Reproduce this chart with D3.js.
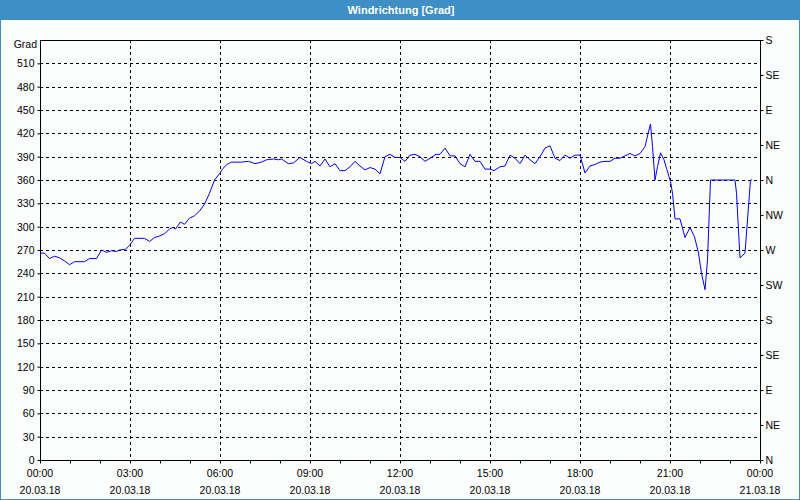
<!DOCTYPE html>
<html><head><meta charset="utf-8">
<script src="https://cdn.jsdelivr.net/npm/d3@7"></script>
<style>
html,body{margin:0;padding:0;background:#fff;}
text{font-family:"Liberation Sans",Arial,sans-serif;}
</style></head>
<body>
<svg id="chart" width="800" height="500"></svg>
<script>
const title = "Windrichtung [Grad]";
const yUnit = "Grad";
// minutes since 20.03.18 00:00
const minutes = [0,9,19,29,39,49,59,69,89,99,113,123,133,143,153,159,171,179,189,209,219,229,239,249,259,266,271,281,289,299,309,319,329,339,349,359,366,374,
377,383,403,417,430,443,453,467,477,483,497,507,520,533,543,550,560,570,580,590,600,610,620,630,640,650,660,670,680,690,700,710,720,730,740,750,760,770,780,792,800,810,820,830,840,850,860,870,880,890,900,908,920,930,940,950,960,970,980,990,1000,1010,1020,1030,1040,1050,1060,1070,1080,1090,1100,1110,1120,1130,1140,1150,1160,1170,1180,1190,1200,1210,1217,1221,1225,1230,1235,1241,1248,1253,1261,1265,1270,1280,1290,1300,1309,1317,1323,1330,1335,1341,1390,1393,1400,1410,1419,1421,1424];
const direction = [266,266,259,262,260,256,251,255,255,259,259,270,267,269,268,270,271,276,285,285,281,286,288,291,297,299,297,306,303,311,314,320,329,343,360,368,375,380,
381,383,383,384,381,383,386,387,386,387,381,382,389,384,381,384,378,387,377,381,372,372,377,384,378,373,376,374,368,390,393,389,389,384,392,393,390,384,388,393,393,401,391,391,381,377,393,384,384,374,374,372,377,378,392,388,381,392,386,381,390,401,404,388,385,392,388,392,392,369,378,380,383,384,384,388,388,391,394,391,394,403,422,432,403,360,377,395,386,375,358,343,310,310,286,299,287,266,240,219,257,360,360,343,260,266,343,360,360];
const leftTicks = [0,30,60,90,120,150,180,210,240,270,300,330,360,390,420,450,480,510];
const rightTickValues = [0,45,90,135,180,225,270,315,360,405,450,495,540];
const rightTickLabels = ["N","NE","E","SE","S","SW","W","NW","N","NE","E","SE","S"];
const xTickTimes = ["00:00","03:00","06:00","09:00","12:00","15:00","18:00","21:00","00:00"];
const xTickDates = ["20.03.18","20.03.18","20.03.18","20.03.18","20.03.18","20.03.18","20.03.18","20.03.18","21.03.18"];

const svg = d3.select("#chart");
const W = 800, H = 500;
const m = {l:40, r:40, t:40, b:40};
const t0 = new Date(2018,2,20,0,0);
const t1 = new Date(2018,2,21,0,0);
const x = d3.scaleTime().domain([t0,t1]).range([m.l, W-m.r]);
const y = d3.scaleLinear().domain([0,540]).range([H-m.b, m.t]);

// frame
svg.append("rect").attr("x",0.5).attr("y",0.5).attr("width",W-1).attr("height",H-1)
  .attr("fill","#fcfefe").attr("stroke","#3d8fc6").attr("stroke-width",1);
svg.append("rect").attr("x",0).attr("y",0).attr("width",W).attr("height",20).attr("fill","#3d8fc6");
svg.append("text").attr("x",401).attr("y",14).attr("text-anchor","middle")
  .attr("fill","#fff").attr("font-weight","bold").attr("font-size","11px").text(title);

// grid
const g = svg.append("g");
g.selectAll(".hg").data(leftTicks.filter(v=>v>0)).join("line")
  .attr("x1",m.l).attr("x2",W-m.r).attr("y1",d=>Math.round(y(d))+0.5).attr("y2",d=>Math.round(y(d))+0.5)
  .attr("stroke","#000").attr("stroke-dasharray","3,3");
const gridHours = d3.range(3,24,3).map(h=>new Date(2018,2,20,h,0));
g.selectAll(".vg").data(gridHours).join("line")
  .attr("y1",m.t).attr("y2",H-m.b).attr("x1",d=>Math.round(x(d))+0.5).attr("x2",d=>Math.round(x(d))+0.5)
  .attr("stroke","#000").attr("stroke-dasharray","3,3");

// border top
svg.append("line").attr("x1",m.l).attr("x2",W-m.r).attr("y1",m.t+0.5).attr("y2",m.t+0.5).attr("stroke","#000");

// axes
const fs = "10.5px";
const yAxis = d3.axisLeft(y).tickValues(leftTicks).tickSize(3).tickPadding(3).tickFormat(d3.format("d"));
const ay = svg.append("g").attr("transform",`translate(${m.l+0.5},0)`).call(yAxis);
const yR = d3.axisRight(y).tickValues(rightTickValues).tickSize(3).tickPadding(2).tickFormat((d,i)=>rightTickLabels[i]);
const ar = svg.append("g").attr("transform",`translate(${W-m.r+0.5},0)`).call(yR);
const hourTicks = d3.range(0,25,1).map(h=>new Date(2018,2,20,h,0));
const xAxis = d3.axisBottom(x).tickValues(hourTicks).tickSize(3).tickFormat("");
const ax = svg.append("g").attr("transform",`translate(0,${H-m.b+0.5})`).call(xAxis);
[ay,ar,ax].forEach(a=>{
  a.select(".domain").attr("stroke","#000");
  a.selectAll(".tick line").attr("stroke","#000");
  a.selectAll("text").attr("fill","#000").attr("font-size",fs).attr("font-family","Liberation Sans, Arial, sans-serif");
});
ay.select(".domain").attr("d",`M0,${m.t}V${H-m.b}`);
ar.select(".domain").attr("d",`M0,${m.t}V${H-m.b}`);
ax.select(".domain").attr("d",`M${m.l},0H${W-m.r}`);

// x labels
const labTicks = d3.range(0,25,3).map(h=>new Date(2018,2,20,h,0));
const xl = svg.append("g");
xl.selectAll(".xt").data(labTicks).join("text").attr("x",d=>x(d)).attr("y",477)
  .attr("text-anchor","middle").attr("font-size",fs).text((d,i)=>xTickTimes[i]);
xl.selectAll(".xd").data(labTicks).join("text").attr("x",d=>x(d)).attr("y",494)
  .attr("text-anchor","middle").attr("font-size",fs).text((d,i)=>xTickDates[i]);

svg.append("text").attr("x",37).attr("y",48).attr("text-anchor","end").attr("font-size",fs).text(yUnit);

// line
const data = minutes.map((mm,i)=>({t:new Date(t0.getTime()+mm*60000), v:direction[i]}));
svg.append("path").datum(data)
  .attr("fill","none").attr("stroke","#0000ff").attr("stroke-width",1)
  .attr("d", d3.line().x(d=>x(d.t)).y(d=>y(d.v)));
</script>
</body></html>
